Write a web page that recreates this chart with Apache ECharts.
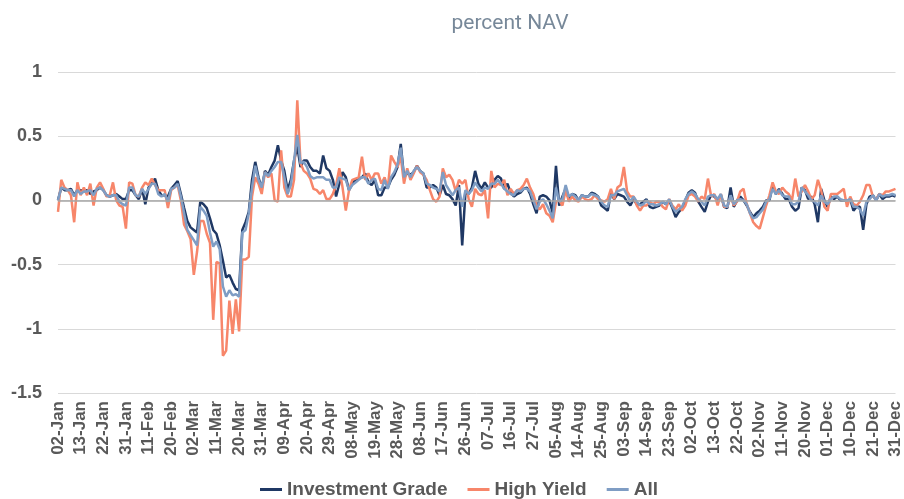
<!DOCTYPE html>
<html>
<head>
<meta charset="utf-8">
<script src="https://cdn.jsdelivr.net/npm/echarts@6/dist/echarts.min.js"></script>
<title>percent NAV</title>
<style>
  html, body { margin: 0; padding: 0; background: #fff; }
  #chart { width: 904px; height: 499px; }
</style>
</head>
<body>
<div id="chart"></div>
<script>
// business days of 2020 (weekends, 1 Jan and 25 Dec left out)
var monthNames = ["Jan","Feb","Mar","Apr","May","Jun","Jul","Aug","Sep","Oct","Nov","Dec"];
var days = [];
for (var t = Date.UTC(2020, 0, 2); t <= Date.UTC(2020, 11, 31); t += 86400000) {
  var d = new Date(t);
  var wd = d.getUTCDay();
  if (wd == 0 || wd == 6) continue;
  if (d.getUTCMonth() == 11 && d.getUTCDate() == 25) continue;
  var dd = d.getUTCDate();
  days.push((dd < 10 ? "0" + dd : "" + dd) + "-" + monthNames[d.getUTCMonth()]);
}

var investmentGrade = [
  0.00, 0.10, 0.08, 0.08, 0.09, 0.04, 0.08, 0.08, 0.07, 0.08,
  0.05, 0.07, 0.08, 0.10, 0.08, 0.04, 0.03, 0.04, 0.05, 0.03,
  0.01, 0.01, 0.08, 0.08, 0.04, 0.01, 0.09, -0.03, 0.10, 0.13,
  0.17, 0.08, 0.04, 0.04, 0.03, 0.09, 0.12, 0.15, 0.05, -0.06,
  -0.16, -0.21, -0.23, -0.25, -0.01, -0.03, -0.06, -0.14, -0.23, -0.26,
  -0.35, -0.47, -0.60, -0.58, -0.64, -0.69, -0.70, -0.23, -0.17, -0.09,
  0.16, 0.30, 0.18, 0.09, 0.23, 0.20, 0.26, 0.31, 0.43, 0.31,
  0.23, 0.08, 0.16, 0.31, 0.42, 0.26, 0.31, 0.31, 0.26, 0.23,
  0.23, 0.21, 0.35, 0.25, 0.23, 0.16, 0.03, 0.13, 0.22, 0.18,
  0.08, 0.13, 0.16, 0.17, 0.18, 0.21, 0.14, 0.12, 0.16, 0.04,
  0.04, 0.10, 0.10, 0.16, 0.20, 0.26, 0.44, 0.18, 0.21, 0.20,
  0.22, 0.27, 0.23, 0.21, 0.10, 0.10, 0.12, 0.10, 0.04, 0.12,
  0.05, 0.04, 0.01, -0.04, 0.12, -0.35, 0.06, 0.05, 0.10, 0.23,
  0.13, 0.09, 0.14, 0.10, 0.10, 0.16, 0.19, 0.17, 0.09, 0.13,
  0.06, 0.03, 0.05, 0.06, 0.09, 0.10, 0.05, -0.03, -0.10, 0.03,
  0.04, 0.03, 0.00, -0.10, 0.27, -0.04, 0.03, 0.09, 0.01, 0.05,
  0.04, 0.00, 0.04, 0.03, 0.03, 0.06, 0.05, 0.03, -0.04, -0.06,
  -0.08, 0.06, 0.01, 0.05, 0.04, 0.03, -0.01, -0.04, 0.01, -0.03,
  -0.03, -0.01, 0.01, -0.05, -0.06, -0.05, -0.04, -0.01, -0.03, 0.00,
  -0.06, -0.13, -0.09, -0.06, 0.00, 0.06, 0.08, 0.06, -0.01, -0.05,
  -0.09, -0.01, 0.04, 0.03, 0.00, 0.04, -0.05, -0.06, 0.10, -0.05,
  0.00, 0.03, 0.00, -0.04, -0.09, -0.13, -0.10, -0.08, -0.05, 0.00,
  0.00, 0.12, 0.05, 0.09, 0.05, 0.01, 0.01, -0.05, -0.08, -0.06,
  0.10, 0.08, 0.01, 0.03, -0.03, -0.17, 0.09, 0.00, -0.05, 0.03,
  0.01, 0.03, 0.00, 0.00, -0.01, 0.01, -0.08, -0.05, -0.05, -0.23,
  -0.03, 0.03, 0.04, 0.00, 0.05, 0.01, 0.03, 0.03, 0.04, 0.03
];

var highYield = [
  -0.09, 0.16, 0.10, 0.08, 0.04, -0.17, 0.14, 0.04, 0.10, 0.04,
  0.13, -0.04, 0.10, 0.14, 0.09, 0.03, 0.04, 0.14, 0.00, -0.04,
  -0.05, -0.22, 0.14, 0.13, 0.04, 0.03, 0.10, 0.14, 0.12, 0.17,
  0.12, 0.08, 0.08, 0.08, -0.06, 0.08, 0.10, 0.12, 0.00, -0.19,
  -0.24, -0.30, -0.58, -0.40, -0.16, -0.16, -0.26, -0.33, -0.93, -0.48,
  -0.49, -1.21, -1.17, -0.78, -1.04, -0.77, -1.02, -0.46, -0.46, -0.44,
  0.03, 0.18, 0.13, 0.05, 0.22, 0.18, 0.21, 0.00, -0.01, 0.39,
  0.10, 0.03, 0.03, 0.16, 0.78, 0.29, 0.23, 0.21, 0.17, 0.09,
  0.08, 0.05, 0.08, 0.01, 0.01, 0.05, 0.12, 0.25, 0.10, -0.08,
  0.08, 0.16, 0.17, 0.18, 0.34, 0.16, 0.21, 0.16, 0.21, 0.21,
  0.13, 0.18, 0.10, 0.35, 0.30, 0.26, 0.34, 0.13, 0.25, 0.16,
  0.21, 0.27, 0.22, 0.20, 0.16, 0.08, 0.01, -0.01, 0.03, 0.25,
  0.18, 0.20, 0.16, 0.07, 0.16, 0.13, 0.16, 0.01, -0.05, 0.09,
  0.05, 0.04, 0.08, -0.14, 0.23, 0.10, 0.13, 0.12, 0.16, 0.04,
  0.09, 0.05, 0.08, 0.09, 0.12, 0.17, 0.10, 0.05, -0.04, -0.07,
  -0.03, -0.10, -0.12, -0.17, -0.01, 0.00, -0.04, 0.08, -0.01, 0.03,
  0.00, -0.01, 0.03, 0.01, 0.00, 0.01, 0.04, 0.01, 0.00, -0.01,
  0.01, 0.09, 0.01, 0.10, 0.12, 0.26, 0.07, 0.03, 0.03, -0.04,
  -0.08, -0.04, -0.04, -0.01, -0.03, -0.01, -0.01, -0.05, -0.07, 0.01,
  -0.04, -0.07, -0.03, -0.08, -0.04, 0.04, 0.05, 0.03, -0.01, 0.03,
  0.01, 0.17, 0.03, 0.05, -0.04, 0.05, -0.05, -0.05, 0.03, -0.04,
  -0.01, 0.07, 0.09, -0.03, -0.10, -0.17, -0.20, -0.22, -0.13, -0.04,
  0.04, 0.14, 0.07, 0.05, 0.10, 0.07, 0.05, 0.00, 0.17, 0.03,
  0.07, 0.12, 0.07, 0.01, 0.04, 0.16, 0.08, -0.05, -0.08, 0.05,
  0.05, 0.05, 0.07, 0.09, -0.05, 0.03, -0.03, -0.04, -0.01, 0.04,
  0.12, 0.12, 0.03, 0.01, 0.05, 0.04, 0.07, 0.07, 0.08, 0.09
];

var allFunds = [
  0.00, 0.10, 0.09, 0.08, 0.08, 0.03, 0.08, 0.05, 0.07, 0.07,
  0.08, 0.04, 0.09, 0.10, 0.08, 0.04, 0.03, 0.04, 0.04, -0.01,
  -0.03, -0.04, 0.10, 0.10, 0.04, 0.03, 0.09, 0.05, 0.09, 0.13,
  0.13, 0.05, 0.03, 0.05, -0.01, 0.09, 0.10, 0.13, 0.03, -0.10,
  -0.23, -0.27, -0.31, -0.35, -0.05, -0.08, -0.12, -0.25, -0.36, -0.32,
  -0.38, -0.67, -0.75, -0.70, -0.74, -0.73, -0.75, -0.25, -0.23, -0.10,
  0.10, 0.27, 0.16, 0.10, 0.22, 0.19, 0.23, 0.26, 0.30, 0.30,
  0.18, 0.05, 0.12, 0.31, 0.51, 0.29, 0.30, 0.26, 0.19, 0.17,
  0.18, 0.18, 0.18, 0.16, 0.16, 0.10, 0.10, 0.18, 0.17, 0.16,
  0.08, 0.12, 0.14, 0.16, 0.18, 0.18, 0.13, 0.16, 0.17, 0.09,
  0.08, 0.16, 0.09, 0.18, 0.22, 0.28, 0.41, 0.18, 0.23, 0.18,
  0.23, 0.26, 0.23, 0.21, 0.13, 0.12, 0.10, 0.09, 0.07, 0.22,
  0.12, 0.08, 0.04, 0.08, 0.10, -0.05, 0.08, 0.05, 0.08, 0.14,
  0.10, 0.07, 0.10, 0.09, 0.13, 0.13, 0.16, 0.13, 0.09, 0.07,
  0.05, 0.04, 0.08, 0.07, 0.09, 0.09, 0.07, 0.00, -0.07, -0.01,
  0.01, -0.03, -0.08, -0.14, 0.10, -0.01, 0.01, 0.12, 0.03, 0.05,
  0.03, 0.00, 0.04, 0.03, 0.03, 0.05, 0.04, 0.03, -0.01, -0.04,
  -0.05, 0.04, 0.04, 0.07, 0.08, 0.09, 0.04, -0.01, 0.03, -0.01,
  -0.04, -0.03, 0.00, -0.03, -0.03, -0.04, -0.03, -0.01, -0.03, 0.01,
  -0.05, -0.09, -0.07, -0.05, 0.01, 0.05, 0.07, 0.05, 0.01, -0.01,
  -0.04, 0.03, 0.04, 0.04, 0.01, 0.05, -0.04, -0.05, 0.04, -0.03,
  0.00, 0.01, 0.00, -0.03, -0.10, -0.14, -0.13, -0.10, -0.07, -0.01,
  0.01, 0.09, 0.05, 0.08, 0.04, 0.03, 0.03, -0.03, -0.03, -0.01,
  0.10, 0.07, 0.04, 0.00, -0.01, -0.04, 0.04, -0.01, -0.03, 0.01,
  0.03, 0.03, 0.01, 0.00, 0.00, 0.01, -0.05, -0.05, -0.07, -0.12,
  -0.01, 0.01, 0.04, 0.00, 0.05, 0.03, 0.04, 0.04, 0.05, 0.04
];

var seriesNames = ["Investment Grade", "High Yield", "All"];
var seriesColors = ["#1f3864", "#f7866a", "#7f9dc4"];
var seriesValues = [investmentGrade, highYield, allFunds];

var labelFont = "Liberation Sans, Arial, sans-serif";

// zero line sits under the three curves
var series = [{
  name: "zero",
  type: "line",
  data: [],
  z: 1,
  markLine: {
    silent: true,
    symbol: "none",
    label: {show: false},
    lineStyle: {type: "solid", color: "#a6a6a6", width: 1.5},
    data: [{yAxis: 0}]
  }
}];
for (var i = 0; i < seriesNames.length; ++i) {
  series.push({
    name: seriesNames[i],
    type: "line",
    data: seriesValues[i],
    showSymbol: false,
    symbol: "none",
    z: 3,
    lineStyle: {width: 2.5, color: seriesColors[i]},
    itemStyle: {color: seriesColors[i]}
  });
}

var chart = echarts.init(document.getElementById("chart"));
chart.setOption({
  animation: false,
  title: {
    text: "percent NAV",
    left: 505,
    top: 8,
    textAlign: "center",
    textStyle: {fontFamily: "Roboto, sans-serif", fontWeight: "normal", fontSize: 21, color: "#778899"}
  },
  legend: {
    left: 255,
    bottom: -5,
    icon: "rect",
    itemWidth: 22,
    itemHeight: 3,
    itemGap: 20,
    data: seriesNames,
    textStyle: {fontFamily: labelFont, fontWeight: "bold", fontSize: 19, color: "#595959"}
  },
  grid: {left: 58, right: 6, top: 72, bottom: 106},
  xAxis: {
    type: "category",
    data: days,
    boundaryGap: false,
    axisLine: {show: false},
    axisTick: {show: false},
    axisLabel: {
      interval: 6,
      rotate: 90,
      margin: 8,
      fontFamily: labelFont,
      fontWeight: "bold",
      fontSize: 17,
      color: "#595959"
    }
  },
  yAxis: {
    type: "value",
    min: -1.5,
    max: 1,
    interval: 0.5,
    axisLine: {show: false},
    axisTick: {show: false},
    splitLine: {lineStyle: {color: "#d9d9d9", width: 1}},
    axisLabel: {
      margin: 16,
      fontFamily: labelFont,
      fontWeight: "bold",
      fontSize: 18,
      color: "#595959"
    }
  },
  series: series
});
</script>
</body>
</html>
